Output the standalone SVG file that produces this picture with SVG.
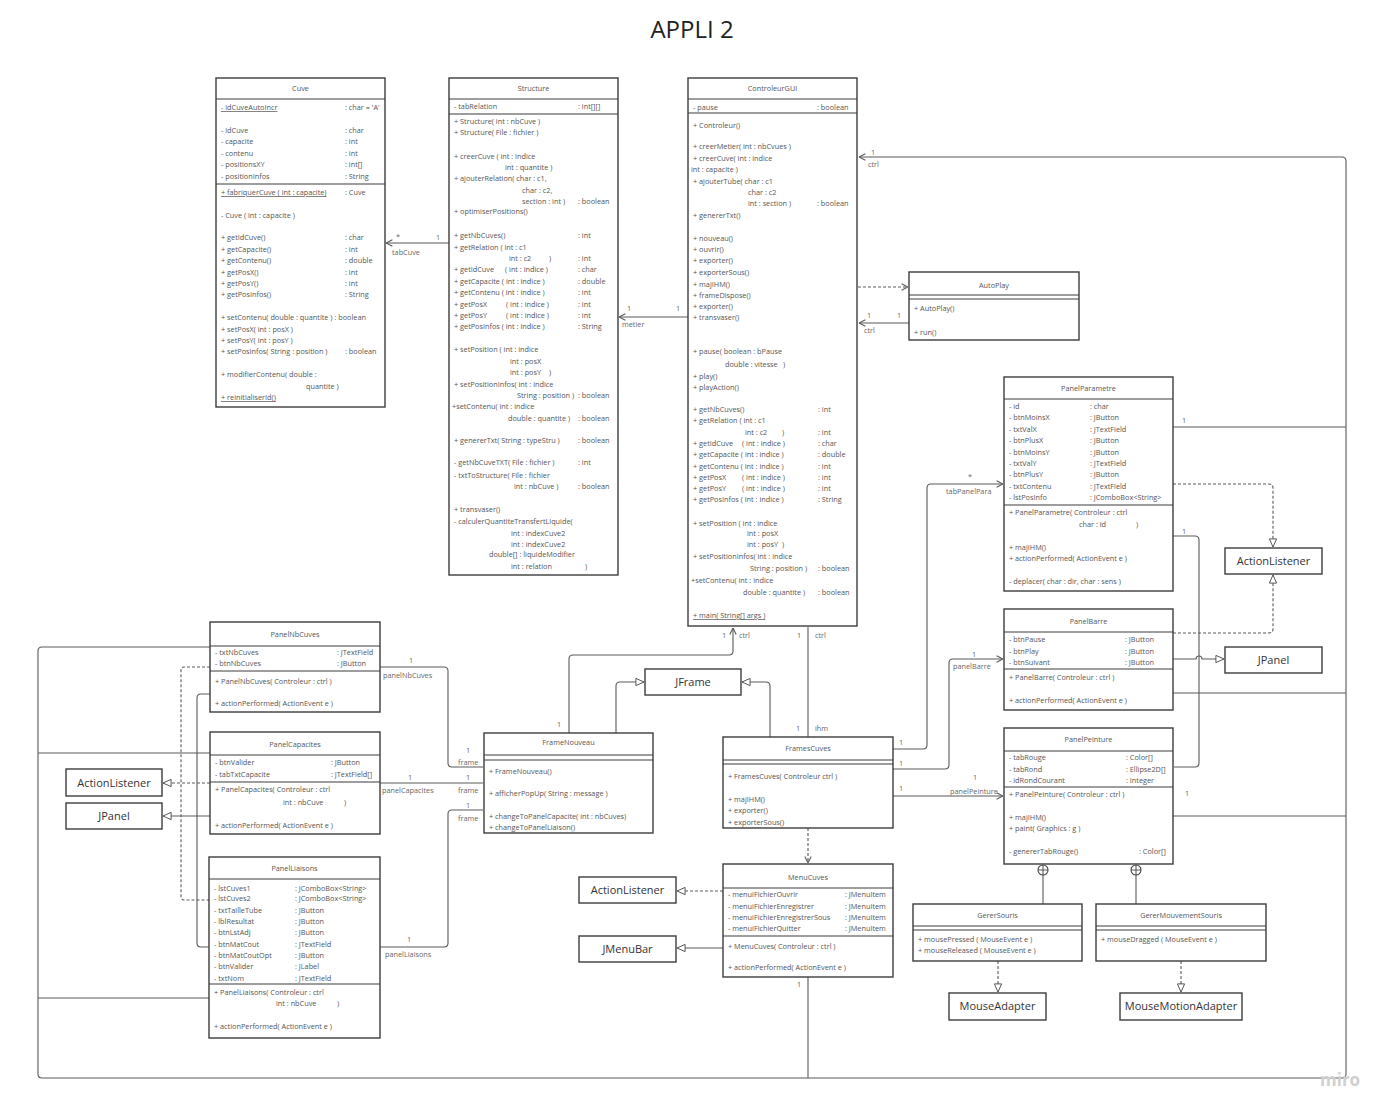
<svg xmlns="http://www.w3.org/2000/svg" width="1396" height="1118" viewBox="0 0 1396 1118">
<style>
.n rect{fill:#fff;stroke:#3c3c3c;stroke-width:1.4}
.sep{stroke:#3c3c3c;stroke-width:1.2;fill:none}
text{font-family:"Open Sans","Liberation Sans",sans-serif;font-size:7.3px;fill:#555}
.h{text-anchor:middle}
.u{text-decoration:underline}
.big{font-size:11px;fill:#333;text-anchor:middle}
.cn path{fill:none;stroke:#5a5a5a;stroke-width:1.1}
.dash{stroke-dasharray:3 2}
.lbl{font-size:7.3px;fill:#666}
</style>
<defs>
<marker id="oa" viewBox="0 0 10 10" refX="10" refY="5" markerWidth="8" markerHeight="8" markerUnits="userSpaceOnUse" orient="auto"><path d="M2,1 L10,5 L2,9" fill="none" stroke="#555" stroke-width="1.3"/></marker>
<marker id="tri" viewBox="0 0 10 10" refX="10" refY="5" markerWidth="9" markerHeight="9" markerUnits="userSpaceOnUse" orient="auto"><path d="M1,1 L10,5 L1,9 z" fill="#fff" stroke="#555" stroke-width="1.1"/></marker>
</defs>
<rect width="1396" height="1118" fill="#fff"/>
<text x="692" y="38" style="font-size:24px;fill:#222;text-anchor:middle">APPLI 2</text>

<g id="connectors" class="cn">
<path d="M449,243 H386" marker-end="url(#oa)"/>
<path d="M688,317 H619" marker-end="url(#oa)"/>
<path class="dash" d="M858,287 H908" marker-end="url(#oa)"/>
<path d="M909,323 H859" marker-end="url(#oa)"/>
<path d="M210,647 H42 Q38,647 38,651 V1074 Q38,1078 42,1078 H1342 Q1346,1078 1346,1074 V161 Q1346,157 1342,157 H859" marker-end="url(#oa)"/>
<path d="M1173,427 H1346"/>
<path d="M1173,693 H1346"/>
<path d="M1173,816 H1346"/>
<path d="M38,753 H210"/>
<path d="M38,998 H209"/>
<path d="M808,977 V1078"/>
<path class="dash" d="M1173,484 H1269 Q1273,484 1273,488 V547" marker-end="url(#tri)"/>
<path class="dash" d="M1173,633 H1269 Q1273,633 1273,629 V575" marker-end="url(#tri)"/>
<path d="M1173,659 H1196 A3,3 0 0 1 1202,659 H1224" marker-end="url(#tri)"/>
<path d="M1173,536 H1195 Q1199,536 1199,540 V763 Q1199,767 1195,767 H1174"/>
<path d="M893,749 H923 Q927,749 927,745 V488 Q927,484 931,484 H1003" marker-end="url(#oa)"/>
<path d="M893,769 H945 Q949,769 949,765 V663 Q949,659 953,659 H1003" marker-end="url(#oa)"/>
<path d="M893,796 H1003" marker-end="url(#oa)"/>
<path d="M808,737 V627"/>
<path d="M770,737 V686 Q770,682 766,682 H742" marker-end="url(#tri)"/>
<path d="M616,733 V686 Q616,682 620,682 H644" marker-end="url(#tri)"/>
<path d="M569,733 V659 Q569,655 573,655 H729 Q733,655 733,651 V628" marker-end="url(#oa)"/>
<path class="dash" d="M808,828 V863" marker-end="url(#oa)"/>
<path class="dash" d="M723,891 H677" marker-end="url(#tri)"/>
<path d="M723,948 H677" marker-end="url(#tri)"/>
<path d="M380,667 H444 Q448,667 448,671 V763 Q448,767 452,767 H483"/>
<path d="M380,783 H483"/>
<path d="M380,947 H444 Q448,947 448,943 V814 Q448,810 452,810 H483"/>
<path class="dash" d="M210,667 H184 Q181,667 181,670 V897 Q181,900 184,900 H209"/>
<path class="dash" d="M210,783 H163" marker-end="url(#tri)"/>
<path d="M210,694 H201 Q197,694 197,698 V943 Q197,947 201,947 H209"/>
<path d="M210,816 H163" marker-end="url(#tri)"/>
<path d="M1043,875 V904"/>
<path d="M1136,875 V904"/>
<path d="M1038,870 H1048 M1043,865 V875"/>
<path d="M1131,870 H1141 M1136,865 V875"/>
<circle cx="1043" cy="870" r="5" fill="none" stroke="#444" stroke-width="1.1"/>
<circle cx="1136" cy="870" r="5" fill="none" stroke="#444" stroke-width="1.1"/>
<path class="dash" d="M998,961 V992" marker-end="url(#tri)"/>
<path class="dash" d="M1181,961 V992" marker-end="url(#tri)"/>
<text class="lbl" x="396" y="240">*</text>
<text class="lbl" x="436" y="240">1</text>
<text class="lbl" x="392" y="255">tabCuve</text>
<text class="lbl" x="627" y="311">1</text>
<text class="lbl" x="676" y="311">1</text>
<text class="lbl" x="622" y="327">metier</text>
<text class="lbl" x="867" y="318">1</text>
<text class="lbl" x="897" y="318">1</text>
<text class="lbl" x="864" y="333">ctrl</text>
<text class="lbl" x="871" y="155">1</text>
<text class="lbl" x="868" y="167">ctrl</text>
<text class="lbl" x="1182" y="423">1</text>
<text class="lbl" x="1182" y="534">1</text>
<text class="lbl" x="1185" y="796">1</text>
<text class="lbl" x="797" y="987">1</text>
<text class="lbl" x="899" y="745">1</text>
<text class="lbl" x="968" y="480">*</text>
<text class="lbl" x="946" y="494">tabPanelPara</text>
<text class="lbl" x="899" y="766">1</text>
<text class="lbl" x="972" y="657">1</text>
<text class="lbl" x="953" y="669">panelBarre</text>
<text class="lbl" x="899" y="791">1</text>
<text class="lbl" x="973" y="780">1</text>
<text class="lbl" x="950" y="794">panelPeinture</text>
<text class="lbl" x="797" y="638">1</text>
<text class="lbl" x="815" y="638">ctrl</text>
<text class="lbl" x="796" y="731">1</text>
<text class="lbl" x="815" y="731">ihm</text>
<text class="lbl" x="722" y="638">1</text>
<text class="lbl" x="739" y="638">ctrl</text>
<text class="lbl" x="557" y="727">1</text>
<text class="lbl" x="409" y="663">1</text>
<text class="lbl" x="383" y="678">panelNbCuves</text>
<text class="lbl" x="466" y="753">1</text>
<text class="lbl" x="458" y="765">frame</text>
<text class="lbl" x="408" y="780">1</text>
<text class="lbl" x="382" y="793">panelCapacites</text>
<text class="lbl" x="466" y="780">1</text>
<text class="lbl" x="458" y="793">frame</text>
<text class="lbl" x="407" y="942">1</text>
<text class="lbl" x="385" y="957">panelLiaisons</text>
<text class="lbl" x="466" y="808">1</text>
<text class="lbl" x="458" y="821">frame</text>
</g>

<g id="Cuve" class="n">
<rect x="216" y="78" width="169" height="329"/>
<path class="sep" d="M216,99 H385 M216,184 H385"/>
<text class="h" x="300.5" y="91">Cuve</text>
<text class="u" x="221" y="110">- idCuveAutoIncr</text><text x="345" y="110">: char = 'A'</text>
<text x="221" y="133">- idCuve</text><text x="345" y="133">: char</text>
<text x="221" y="144">- capacite</text><text x="345" y="144">: int</text>
<text x="221" y="156">- contenu</text><text x="345" y="156">: int</text>
<text x="221" y="167">- positionsXY</text><text x="345" y="167">: int[]</text>
<text x="221" y="179">- positionInfos</text><text x="345" y="179">: String</text>
<text class="u" x="221" y="195">+ fabriquerCuve ( int : capacite)</text><text x="345" y="195">: Cuve</text>
<text x="221" y="218">- Cuve ( int : capacite )</text>
<text x="221" y="240">+ getIdCuve()</text><text x="345" y="240">: char</text>
<text x="221" y="252">+ getCapacite()</text><text x="345" y="252">: int</text>
<text x="221" y="263">+ getContenu()</text><text x="345" y="263">: double</text>
<text x="221" y="275">+ getPosX()</text><text x="345" y="275">: int</text>
<text x="221" y="286">+ getPosY()</text><text x="345" y="286">: int</text>
<text x="221" y="297">+ getPosInfos()</text><text x="345" y="297">: String</text>
<text x="221" y="320">+ setContenu( double : quantite ) : boolean</text>
<text x="221" y="332">+ setPosX( int : posX )</text>
<text x="221" y="343">+ setPosY( int : posY )</text>
<text x="221" y="354">+ setPosInfos( String : position )</text><text x="345" y="354">: boolean</text>
<text x="221" y="377">+ modifierContenu( double :</text>
<text x="306" y="389">quantite )</text>
<text class="u" x="221" y="400">+ reinitialiserId()</text>
</g>

<g id="Structure" class="n">
<rect x="449" y="78" width="169" height="497"/>
<path class="sep" d="M449,99 H618 M449,114 H618"/>
<text class="h" x="533.5" y="91">Structure</text>
<text x="454" y="109">- tabRelation</text><text x="578" y="109">: int[][]</text>
<text x="454" y="124">+ Structure( int : nbCuve )</text>
<text x="454" y="135">+ Structure( File : fichier )</text>
<text x="454" y="159">+ creerCuve ( int : indice</text>
<text x="505" y="170">int : quantite )</text>
<text x="454" y="181">+ ajouterRelation( char : c1,</text>
<text x="522" y="193">char : c2,</text>
<text x="522" y="204">section : int )</text><text x="578" y="204">: boolean</text>
<text x="454" y="214">+ optimiserPositions()</text>
<text x="454" y="238">+ getNbCuves()</text><text x="578" y="238">: int</text>
<text x="454" y="250">+ getRelation ( int : c1</text>
<text x="509" y="261">int : c2</text><text x="549" y="261">)</text><text x="578" y="261">: int</text>
<text x="454" y="272">+ getIdCuve</text><text x="505" y="272">( int : indice )</text><text x="578" y="272">: char</text>
<text x="454" y="284">+ getCapacite ( int : indice )</text><text x="578" y="284">: double</text>
<text x="454" y="295">+ getContenu ( int : indice )</text><text x="578" y="295">: int</text>
<text x="454" y="307">+ getPosX</text><text x="506" y="307">( int : indice )</text><text x="578" y="307">: int</text>
<text x="454" y="318">+ getPosY</text><text x="506" y="318">( int : indice )</text><text x="578" y="318">: int</text>
<text x="454" y="329">+ getPosInfos ( int : indice )</text><text x="578" y="329">: String</text>
<text x="454" y="352">+ setPosition ( int : indice</text>
<text x="510" y="364">int : posX</text>
<text x="510" y="375">int : posY</text><text x="549" y="375">)</text>
<text x="454" y="387">+ setPositionInfos( int : indice</text>
<text x="517" y="398">String : position )</text><text x="578" y="398">: boolean</text>
<text x="452" y="409">+setContenu( int : indice</text>
<text x="508" y="421">double : quantite )</text><text x="578" y="421">: boolean</text>
<text x="454" y="443">+ genererTxt( String : typeStru )</text><text x="578" y="443">: boolean</text>
<text x="454" y="465">- getNbCuveTXT( File : fichier )</text><text x="578" y="465">: int</text>
<text x="454" y="478">- txtToStructure( File : fichier</text>
<text x="514" y="489">int : nbCuve )</text><text x="578" y="489">: boolean</text>
<text x="454" y="512">+ transvaser()</text>
<text x="454" y="524">- calculerQuantiteTransfertLiquide(</text>
<text x="511" y="536">int : indexCuve2</text>
<text x="511" y="547">int : indexCuve2</text>
<text x="489" y="557">double[] : liquideModifier</text>
<text x="511" y="569">int : relation</text><text x="585" y="569">)</text>
</g>

<g id="ControleurGUI" class="n">
<rect x="688" y="78" width="169" height="548"/>
<path class="sep" d="M688,99 H857 M688,113 H857"/>
<text class="h" x="772.5" y="91">ControleurGUI</text>
<text x="693" y="110">- pause</text><text x="817" y="110">: boolean</text>
<text x="693" y="128">+ Controleur()</text>
<text x="693" y="149">+ creerMetier( int : nbCvues )</text>
<text x="693" y="161">+ creerCuve( int : indice</text>
<text x="691" y="172">int : capacite )</text>
<text x="693" y="184">+ ajouterTube( char : c1</text>
<text x="748" y="195">char : c2</text>
<text x="748" y="206">int : section )</text><text x="817" y="206">: boolean</text>
<text x="693" y="218">+ genererTxt()</text>
<text x="693" y="241">+ nouveau()</text>
<text x="693" y="252">+ ouvrir()</text>
<text x="693" y="263">+ exporter()</text>
<text x="693" y="275">+ exporterSous()</text>
<text x="693" y="287">+ majIHM()</text>
<text x="693" y="298">+ frameDispose()</text>
<text x="693" y="309">+ exporter()</text>
<text x="693" y="320">+ transvaser()</text>
<text x="693" y="354">+ pause( boolean : bPause</text>
<text x="725" y="367">double : vitesse</text><text x="783" y="367">)</text>
<text x="693" y="379">+ play()</text>
<text x="693" y="390">+ playAction()</text>
<text x="693" y="412">+ getNbCuves()</text><text x="818" y="412">: int</text>
<text x="693" y="423">+ getRelation ( int : c1</text>
<text x="745" y="435">int : c2</text><text x="782" y="435">)</text><text x="818" y="435">: int</text>
<text x="693" y="446">+ getIdCuve</text><text x="742" y="446">( int : indice )</text><text x="818" y="446">: char</text>
<text x="693" y="457">+ getCapacite ( int : indice )</text><text x="818" y="457">: double</text>
<text x="693" y="469">+ getContenu ( int : indice )</text><text x="818" y="469">: int</text>
<text x="693" y="480">+ getPosX</text><text x="742" y="480">( int : indice )</text><text x="818" y="480">: int</text>
<text x="693" y="491">+ getPosY</text><text x="742" y="491">( int : indice )</text><text x="818" y="491">: int</text>
<text x="693" y="502">+ getPosInfos ( int : indice )</text><text x="818" y="502">: String</text>
<text x="693" y="526">+ setPosition ( int : indice</text>
<text x="747" y="536">int : posX</text>
<text x="747" y="547">int : posY</text><text x="782" y="547">)</text>
<text x="693" y="559">+ setPositionInfos( int : indice</text>
<text x="750" y="571">String : position )</text><text x="818" y="571">: boolean</text>
<text x="691" y="583">+setContenu( int : indice</text>
<text x="743" y="595">double : quantite )</text><text x="818" y="595">: boolean</text>
<text class="u" x="693" y="618">+ main( String[] args )</text>
</g>

<g id="AutoPlay" class="n">
<rect x="909" y="272" width="170" height="68"/>
<path class="sep" d="M909,295 H1079 M909,299 H1079"/>
<text class="h" x="994" y="288">AutoPlay</text>
<text x="914" y="311">+ AutoPlay()</text>
<text x="914" y="335">+ run()</text>
</g>

<g id="PanelParametre" class="n">
<rect x="1004" y="377" width="169" height="214"/>
<path class="sep" d="M1004,399 H1173 M1004,505 H1173"/>
<text class="h" x="1088.5" y="391">PanelParametre</text>
<text x="1009" y="409">- id</text><text x="1090" y="409">: char</text>
<text x="1009" y="420">- btnMoinsX</text><text x="1090" y="420">: JButton</text>
<text x="1009" y="432">- txtValX</text><text x="1090" y="432">: JTextField</text>
<text x="1009" y="443">- btnPlusX</text><text x="1090" y="443">: JButton</text>
<text x="1009" y="455">- btnMoinsY</text><text x="1090" y="455">: JButton</text>
<text x="1009" y="466">- txtValY</text><text x="1090" y="466">: JTextField</text>
<text x="1009" y="477">- btnPlusY</text><text x="1090" y="477">: JButton</text>
<text x="1009" y="489">- txtContenu</text><text x="1090" y="489">: JTextField</text>
<text x="1009" y="500">- lstPosInfo</text><text x="1090" y="500">: JComboBox&lt;String&gt;</text>
<text x="1009" y="515">+ PanelParametre( Controleur : ctrl</text>
<text x="1079" y="527">char : id</text><text x="1136" y="527">)</text>
<text x="1009" y="550">+ majIHM()</text>
<text x="1009" y="561">+ actionPerformed( ActionEvent e )</text>
<text x="1009" y="584">- deplacer( char : dir, char : sens )</text>
</g>

<g id="PanelBarre" class="n">
<rect x="1004" y="609" width="169" height="101"/>
<path class="sep" d="M1004,632 H1173 M1004,669 H1173"/>
<text class="h" x="1088.5" y="624">PanelBarre</text>
<text x="1009" y="642">- btnPause</text><text x="1125" y="642">: JButton</text>
<text x="1009" y="654">- btnPlay</text><text x="1125" y="654">: JButton</text>
<text x="1009" y="665">- btnSuivant</text><text x="1125" y="665">: JButton</text>
<text x="1009" y="680">+ PanelBarre( Controleur : ctrl )</text>
<text x="1009" y="703">+ actionPerformed( ActionEvent e )</text>
</g>

<g id="PanelPeinture" class="n">
<rect x="1004" y="728" width="169" height="136"/>
<path class="sep" d="M1004,751 H1173 M1004,787 H1173"/>
<text class="h" x="1088.5" y="742">PanelPeinture</text>
<text x="1009" y="760">- tabRouge</text><text x="1126" y="760">: Color[]</text>
<text x="1009" y="772">- tabRond</text><text x="1126" y="772">: Ellipse2D[]</text>
<text x="1009" y="783">- idRondCourant</text><text x="1126" y="783">: Integer</text>
<text x="1009" y="797">+ PanelPeinture( Controleur : ctrl )</text>
<text x="1009" y="820">+ majIHM()</text>
<text x="1009" y="831">+ paint( Graphics : g )</text>
<text x="1009" y="854">- genererTabRouge()</text><text x="1139" y="854">: Color[]</text>
</g>

<g id="GererSouris" class="n">
<rect x="913" y="904" width="169" height="57"/>
<path class="sep" d="M913,926 H1082 M913,930 H1082"/>
<text class="h" x="997.5" y="918">GererSouris</text>
<text x="918" y="942">+ mousePressed ( MouseEvent e )</text>
<text x="918" y="953">+ mouseReleased ( MouseEvent e )</text>
</g>

<g id="GererMouvementSouris" class="n">
<rect x="1096" y="904" width="170" height="57"/>
<path class="sep" d="M1096,926 H1266 M1096,930 H1266"/>
<text class="h" x="1181" y="918">GererMouvementSouris</text>
<text x="1101" y="942">+ mouseDragged ( MouseEvent e )</text>
</g>

<g id="MouseAdapter" class="n">
<rect x="949" y="993" width="97" height="27"/>
<text class="big" x="997.5" y="1010">MouseAdapter</text>
</g>

<g id="MouseMotionAdapter" class="n">
<rect x="1120" y="993" width="122" height="27"/>
<text class="big" x="1181" y="1010">MouseMotionAdapter</text>
</g>

<g id="ActionListenerRight" class="n">
<rect x="1225" y="548" width="97" height="26"/>
<text class="big" x="1273.5" y="565">ActionListener</text>
</g>

<g id="JPanelRight" class="n">
<rect x="1225" y="647" width="97" height="26"/>
<text class="big" x="1273.5" y="664">JPanel</text>
</g>

<g id="FramesCuves" class="n">
<rect x="723" y="737" width="170" height="91"/>
<path class="sep" d="M723,760 H893 M723,764 H893"/>
<text class="h" x="808" y="751">FramesCuves</text>
<text x="728" y="779">+ FramesCuves( Controleur ctrl )</text>
<text x="728" y="802">+ majIHM()</text>
<text x="728" y="813">+ exporter()</text>
<text x="728" y="825">+ exporterSous()</text>
</g>

<g id="MenuCuves" class="n">
<rect x="723" y="864" width="170" height="113"/>
<path class="sep" d="M723,888 H893 M723,936 H893"/>
<text class="h" x="808" y="880">MenuCuves</text>
<text x="728" y="897">- menuiFichierOuvrir</text><text x="845" y="897">: JMenuItem</text>
<text x="728" y="909">- menuiFichierEnregistrer</text><text x="845" y="909">: JMenuItem</text>
<text x="728" y="920">- menuiFichierEnregistrerSous</text><text x="845" y="920">: JMenuItem</text>
<text x="728" y="931">- menuiFichierQuitter</text><text x="845" y="931">: JMenuItem</text>
<text x="728" y="949">+ MenuCuves( Controleur : ctrl )</text>
<text x="728" y="970">+ actionPerformed( ActionEvent e )</text>
</g>

<g id="ActionListenerMenu" class="n">
<rect x="579" y="877" width="97" height="26"/>
<text class="big" x="627.5" y="894">ActionListener</text>
</g>

<g id="JMenuBar" class="n">
<rect x="579" y="936" width="97" height="26"/>
<text class="big" x="627.5" y="953">JMenuBar</text>
</g>

<g id="JFrame" class="n">
<rect x="645" y="669" width="96" height="26"/>
<text class="big" x="693" y="686">JFrame</text>
</g>

<g id="FrameNouveau" class="n">
<rect x="484" y="733" width="169" height="100"/>
<path class="sep" d="M484,755 H653 M484,760 H653"/>
<text class="h" x="568.5" y="745">FrameNouveau</text>
<text x="489" y="774">+ FrameNouveau()</text>
<text x="489" y="796">+ afficherPopUp( String : message )</text>
<text x="489" y="819">+ changeToPanelCapacite( int : nbCuves)</text>
<text x="489" y="830">+ changeToPanelLiaison()</text>
</g>

<g id="PanelNbCuves" class="n">
<rect x="210" y="622" width="170" height="90"/>
<path class="sep" d="M210,646 H380 M210,671 H380"/>
<text class="h" x="295" y="637">PanelNbCuves</text>
<text x="215" y="655">- txtNbCuves</text><text x="337" y="655">: JTextField</text>
<text x="215" y="666">- btnNbCuves</text><text x="337" y="666">: JButton</text>
<text x="215" y="684">+ PanelNbCuves( Controleur : ctrl )</text>
<text x="215" y="706">+ actionPerformed( ActionEvent e )</text>
</g>

<g id="PanelCapacites" class="n">
<rect x="210" y="732" width="170" height="102"/>
<path class="sep" d="M210,755 H380 M210,782 H380"/>
<text class="h" x="295" y="747">PanelCapacites</text>
<text x="215" y="765">- btnValider</text><text x="331" y="765">: JButton</text>
<text x="215" y="777">- tabTxtCapacite</text><text x="331" y="777">: JTextField[]</text>
<text x="215" y="792">+ PanelCapacites( Controleur : ctrl</text>
<text x="283" y="805">int : nbCuve</text><text x="344" y="805">)</text>
<text x="215" y="828">+ actionPerformed( ActionEvent e )</text>
</g>

<g id="PanelLiaisons" class="n">
<rect x="209" y="857" width="171" height="181"/>
<path class="sep" d="M209,879 H380 M209,984 H380"/>
<text class="h" x="294.5" y="871">PanelLiaisons</text>
<text x="214" y="891">- lstCuves1</text><text x="295" y="891">: JComboBox&lt;String&gt;</text>
<text x="214" y="901">- lstCuves2</text><text x="295" y="901">: JComboBox&lt;String&gt;</text>
<text x="214" y="913">- txtTailleTube</text><text x="295" y="913">: JButton</text>
<text x="214" y="924">- lblResultat</text><text x="295" y="924">: JButton</text>
<text x="214" y="935">- btnLstAdj</text><text x="295" y="935">: JButton</text>
<text x="214" y="947">- btnMatCout</text><text x="295" y="947">: JTextField</text>
<text x="214" y="958">- btnMatCoutOpt</text><text x="295" y="958">: JButton</text>
<text x="214" y="969">- btnValider</text><text x="295" y="969">: JLabel</text>
<text x="214" y="981">- txtNom</text><text x="295" y="981">: JTextField</text>
<text x="214" y="995">+ PanelLiaisons( Controleur : ctrl</text>
<text x="276" y="1006">int : nbCuve</text><text x="337" y="1006">)</text>
<text x="214" y="1029">+ actionPerformed( ActionEvent e )</text>
</g>

<g id="ActionListenerLeft" class="n">
<rect x="66" y="769" width="96" height="27"/>
<text class="big" x="114" y="787">ActionListener</text>
</g>

<g id="JPanelLeft" class="n">
<rect x="66" y="803" width="96" height="26"/>
<text class="big" x="114" y="820">JPanel</text>
</g>

<text x="1320" y="1086" style="font-size:17px;font-weight:bold;fill:#d0d0d0">miro</text>
</svg>
